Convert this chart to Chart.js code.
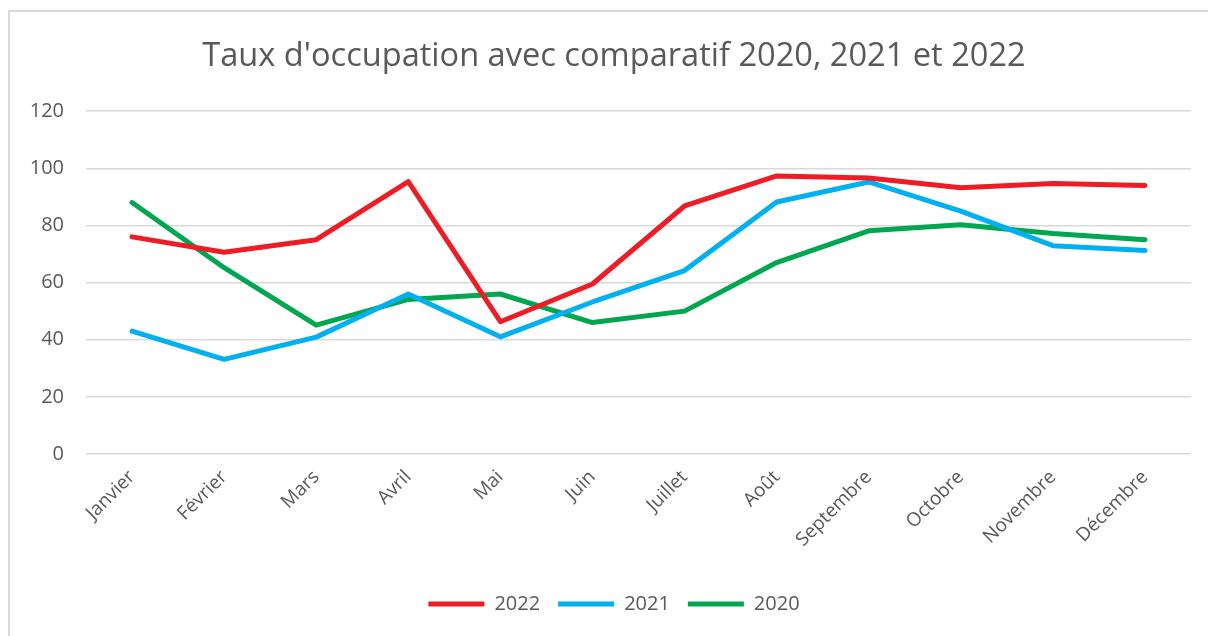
<!DOCTYPE html>
<html>
<head>
<meta charset="utf-8">
<script src="https://cdn.jsdelivr.net/npm/chart.js@4"></script>
<style>
  html, body { margin: 0; padding: 0; background: #fff; }
  #wrap { position: relative; width: 1208px; height: 636px; overflow: hidden; }
  #frame {
    position: absolute; left: 8px; top: 10px; width: 1300px; height: 700px;
    border-left: 2px solid #d9d9d9; border-top: 2px solid #d9d9d9;
  }
  canvas { position: absolute; left: 0; top: 0; }
</style>
</head>
<body>
<div id="wrap">
  <div id="frame"></div>
  <!-- canvas is a bit wider than the page so title/legend centre where the original has them -->
  <canvas id="chart" width="1228" height="636"></canvas>
</div>
<script>
const months = ["Janvier", "Février", "Mars", "Avril", "Mai", "Juin", "Juillet", "Août", "Septembre", "Octobre", "Novembre", "Décembre"];

const values2022 = [76, 70.6, 75, 95.3, 46.3, 59.5, 86.8, 97.3, 96.6, 93.2, 94.7, 94];
const values2021 = [43, 33.1, 40.9, 56, 41, 53.2, 64.2, 88.2, 95.2, 85, 72.9, 71.2];
const values2020 = [88, 65.2, 45.1, 54.1, 56, 46, 50, 67, 78.1, 80.2, 77.2, 75];

const yTicks = [0, 20, 40, 60, 80, 100, 120];

const textColor = "#595959";
const gridColor = "#d9d9d9";
const fontFamily = "'Open Sans', sans-serif";

function series(label, data, color) {
  return {
    label,
    data,
    borderColor: color,
    backgroundColor: color,
    borderWidth: 5,
    borderCapStyle: "round",
    borderJoinStyle: "round",
    pointRadius: 0,
    pointHoverRadius: 0,
    pointStyle: "line",
    tension: 0,
    fill: false
  };
}

new Chart(document.getElementById("chart"), {
  type: "line",
  data: {
    labels: months,
    datasets: [
      series("2022", values2022, "#ee1c25"),
      series("2021", values2021, "#00b0f0"),
      series("2020", values2020, "#00a650")
    ]
  },
  options: {
    responsive: false,
    animation: false,
    layout: { padding: { left: 0, right: 0, top: 0, bottom: 12 } },
    plugins: {
      title: {
        display: true,
        text: "Taux d'occupation avec comparatif 2020, 2021 et 2022",
        color: textColor,
        font: { family: fontFamily, size: 32.6, weight: "normal" },
        padding: { top: 37, bottom: 35 }
      },
      legend: {
        position: "bottom",
        labels: {
          usePointStyle: true,
          pointStyleWidth: 56,
          boxHeight: 10,
          color: textColor,
          font: { family: fontFamily, size: 20 },
          padding: 18
        }
      },
      tooltip: { enabled: false }
    },
    scales: {
      x: {
        offset: true,
        grid: { display: false },
        border: { display: false },
        ticks: {
          color: textColor,
          font: { family: fontFamily, size: 19 },
          minRotation: 45,
          maxRotation: 45,
          padding: 4
        },
        afterFit: scale => { scale.height = 122; }
      },
      y: {
        min: 0,
        max: 120,
        afterBuildTicks: scale => { scale.ticks = yTicks.map(v => ({ value: v })); },
        grid: { color: gridColor, lineWidth: 1.5, drawTicks: false },
        border: { display: false },
        ticks: {
          color: textColor,
          font: { family: fontFamily, size: 20 },
          padding: 22
        },
        afterFit: scale => { scale.width = 86; }
      },
      // empty right-hand spacer, only reserves the right margin
      spacer: {
        type: "linear",
        position: "right",
        min: 0,
        max: 120,
        grid: { display: false },
        border: { display: false },
        ticks: { display: false },
        afterFit: scale => { scale.width = 37; }
      }
    }
  }
});
</script>
</body>
</html>
